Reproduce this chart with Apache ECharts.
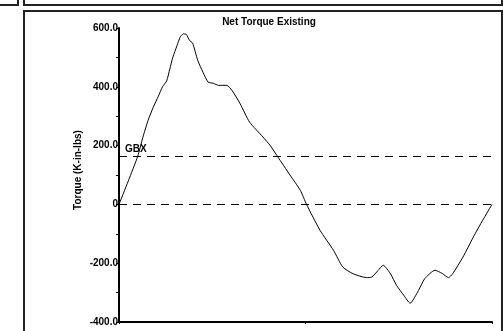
<!DOCTYPE html>
<html>
<head>
<meta charset="utf-8">
<script src="https://cdn.jsdelivr.net/npm/echarts@6/dist/echarts.min.js"></script>
<style>
  html, body { margin: 0; padding: 0; background: #fff; }
  #chart { width: 504px; height: 331px; }
</style>
</head>
<body>
<div id="chart"></div>
<script>
// crank angle (deg) vs net torque (K-in-lbs)
const angles = [0, 9, 18, 23, 28, 33, 38, 42, 46, 49, 52, 56, 59, 62, 65, 68, 71, 76, 81, 86,
  91, 96, 104, 109, 117, 126, 139, 146, 153, 165, 175, 181, 194, 207, 216, 226, 239, 244,
  250, 255, 262, 268, 275, 281, 289, 295, 305, 312, 318, 322, 332, 342, 351, 360];
const torque = [0, 80, 163, 228, 285, 330, 368, 400, 420, 460, 501, 540, 569, 580, 578, 558, 549, 490, 450, 416,
  412, 405, 405, 388, 342, 280, 229, 200, 163, 100, 48, 0, -88, -156, -213, -236, -249, -247,
  -225, -207, -236, -276, -310, -336, -293, -253, -224, -235, -249, -236, -179, -111, -54, 0];
const yTicks = [-400, -200, 0, 200, 400, 600];
const gbxLevel = 163;

const font = 'Liberation Sans, Arial, sans-serif';
const chart = echarts.init(document.getElementById('chart'));

chart.setOption({
  animation: false,
  backgroundColor: '#fff',
  title: {
    text: 'Net Torque Existing',
    left: 264, top: 12, textAlign: 'center',
    textStyle: { fontFamily: font, fontSize: 10, fontWeight: 'bold', color: '#000' }
  },
  graphic: [
    { type: 'polyline', shape: { points: [[0, 5], [18, 5], [18, 0]] }, style: { stroke: '#222', lineWidth: 2, fill: null } },
    { type: 'polyline', shape: { points: [[24, 0], [24, 5], [502, 5], [502, 0]] }, style: { stroke: '#222', lineWidth: 2, fill: null } },
    { type: 'rect', shape: { x: 24, y: 11, width: 478, height: 330 }, style: { stroke: '#222', lineWidth: 2, fill: null } }
  ],
  grid: { left: 119, right: 12, top: 28, bottom: 9 },
  xAxis: {
    type: 'value', min: 0, max: 360, interval: 180,
    axisLine: { onZero: false, lineStyle: { color: '#000', width: 2 } },
    axisTick: { show: true, length: 2, lineStyle: { color: '#000' } },
    axisLabel: { show: false },
    splitLine: { show: false }
  },
  yAxis: {
    type: 'value', min: yTicks[0], max: yTicks[yTicks.length - 1], interval: 200,
    name: 'Torque (K-in-lbs)', nameLocation: 'middle', nameGap: 36, nameMoveOverlap: false,
    nameTextStyle: { fontFamily: font, fontSize: 10, fontWeight: 'bold', color: '#000', padding: [0, 0, 0, 10] },
    axisLine: { show: true, onZero: false, lineStyle: { color: '#000', width: 2 } },
    axisTick: { show: true, length: 3, lineStyle: { color: '#000' } },
    minorTick: { show: true, splitNumber: 2, length: 3, lineStyle: { color: '#000' } },
    axisLabel: {
      margin: 1, fontFamily: font, fontSize: 10, fontWeight: 'bold', color: '#000',
      formatter: v => v === 0 ? '0' : v.toFixed(1)
    },
    splitLine: { show: false }
  },
  series: [{
    type: 'line',
    data: angles.map((a, i) => [a, torque[i]]),
    smooth: 0.2,
    symbol: 'none',
    lineStyle: { color: '#000', width: 1 },
    markLine: {
      silent: true,
      symbol: 'none',
      lineStyle: { color: '#000', width: 1, type: [8, 6] },
      data: [
        { yAxis: gbxLevel, label: { show: true, formatter: 'GBX', position: 'insideStartTop', distance: [6, 2],
          fontFamily: font, fontSize: 10, fontWeight: 'bold', color: '#000' } },
        { yAxis: 0, label: { show: false } }
      ]
    }
  }]
});
</script>
</body>
</html>
